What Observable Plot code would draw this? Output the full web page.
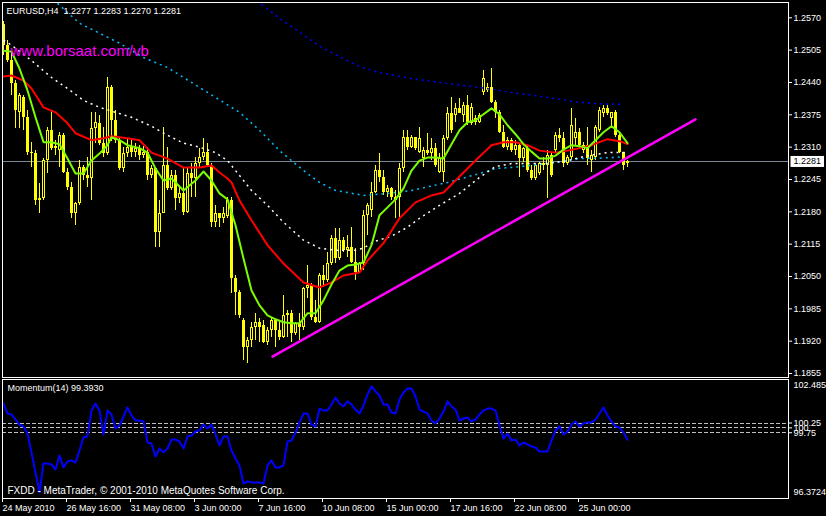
<!DOCTYPE html>
<html><head><meta charset="utf-8">
<script src="https://cdn.jsdelivr.net/npm/d3@7"></script>
<script src="https://cdn.jsdelivr.net/npm/@observablehq/plot@0.6"></script>
<style>
html,body{margin:0;padding:0;background:#000;}
#chart{width:826px;height:516px;background:#000;overflow:hidden;}
#chart svg{display:block;}
</style></head><body><div id="chart"></div>
<script>
// ---- EURUSD H4 candles (bar index 0..156) ----
const opens = [
1.2557,1.2515,1.2484,1.2438,1.2380,1.2410,1.2370,1.2299,1.2297,1.2203,
1.2207,1.2283,1.2344,1.2308,1.2303,1.2334,1.2259,1.2229,1.2177,1.2197,
1.2269,1.2253,1.2247,1.2348,1.2358,1.2318,1.2297,1.2430,1.2364,1.2324,
1.2267,1.2297,1.2310,1.2299,1.2308,1.2293,1.2299,1.2253,1.2267,1.2139,
1.2177,1.2273,1.2227,1.2253,1.2207,1.2217,1.2179,1.2257,1.2247,1.2277,
1.2289,1.2299,1.2273,1.2159,1.2177,1.2167,1.2171,1.2203,1.2046,1.2018,
1.1962,1.1908,1.1922,1.1948,1.1958,1.1952,1.1918,1.1942,1.1962,1.1942,
1.1928,1.1972,1.1976,1.1936,1.1956,1.1948,1.2026,1.2032,1.1968,1.1958,
1.2052,1.2042,1.2076,1.2127,1.2086,1.2123,1.2103,1.2109,1.2078,1.2058,
1.2076,1.2173,1.2183,1.2219,1.2263,1.2249,1.2219,1.2227,1.2203,1.2209,
1.2267,1.2330,1.2310,1.2330,1.2299,1.2287,1.2303,1.2297,1.2308,1.2259,
1.2259,1.2328,1.2378,1.2374,1.2388,1.2374,1.2394,1.2358,1.2368,1.2360,
1.2420,1.2424,1.2430,1.2400,1.2380,1.2340,1.2310,1.2324,1.2303,1.2314,
1.2287,1.2308,1.2263,1.2247,1.2257,1.2277,1.2273,1.2293,1.2303,1.2334,
1.2328,1.2277,1.2289,1.2328,1.2340,1.2303,1.2314,1.2283,1.2289,1.2344,
1.2378,1.2388,1.2368,1.2380,1.2334,1.2299,1.2277];
const highs = [
1.2563,1.2525,1.2500,1.2444,1.2418,1.2414,1.2384,1.2320,1.2303,1.2237,
1.2287,1.2350,1.2384,1.2324,1.2340,1.2338,1.2267,1.2239,1.2199,1.2283,
1.2273,1.2289,1.2380,1.2380,1.2374,1.2350,1.2450,1.2434,1.2384,1.2330,
1.2310,1.2328,1.2324,1.2318,1.2314,1.2312,1.2310,1.2273,1.2269,1.2203,
1.2350,1.2310,1.2263,1.2263,1.2229,1.2269,1.2267,1.2277,1.2289,1.2308,
1.2328,1.2318,1.2277,1.2193,1.2177,1.2189,1.2209,1.2209,1.2052,1.2022,
1.1966,1.1928,1.1958,1.1976,1.1966,1.1962,1.1948,1.1968,1.1962,1.1958,
1.2012,1.1982,1.1982,1.1958,1.1976,1.2028,1.2072,1.2036,1.2002,1.2056,
1.2072,1.2098,1.2133,1.2147,1.2147,1.2129,1.2133,1.2149,1.2107,1.2078,
1.2183,1.2197,1.2239,1.2273,1.2297,1.2263,1.2233,1.2229,1.2223,1.2277,
1.2344,1.2344,1.2334,1.2330,1.2350,1.2310,1.2338,1.2328,1.2318,1.2297,
1.2334,1.2390,1.2410,1.2398,1.2408,1.2400,1.2414,1.2398,1.2374,1.2378,
1.2464,1.2438,1.2468,1.2404,1.2384,1.2354,1.2330,1.2328,1.2324,1.2318,
1.2310,1.2314,1.2273,1.2277,1.2279,1.2289,1.2303,1.2297,1.2340,1.2348,
1.2340,1.2293,1.2388,1.2368,1.2348,1.2320,1.2350,1.2303,1.2354,1.2390,
1.2394,1.2394,1.2380,1.2384,1.2338,1.2299,1.2283];
const lows = [
1.2494,1.2480,1.2414,1.2348,1.2348,1.2344,1.2293,1.2269,1.2193,1.2177,
1.2203,1.2257,1.2303,1.2293,1.2269,1.2257,1.2223,1.2167,1.2153,1.2193,
1.2243,1.2229,1.2203,1.2318,1.2314,1.2289,1.2293,1.2322,1.2318,1.2263,
1.2259,1.2289,1.2289,1.2289,1.2283,1.2287,1.2243,1.2247,1.2109,1.2109,
1.2177,1.2223,1.2223,1.2183,1.2197,1.2173,1.2177,1.2209,1.2209,1.2269,
1.2283,1.2269,1.2149,1.2149,1.2149,1.2157,1.2167,1.2016,1.1972,1.1966,
1.1881,1.1875,1.1908,1.1922,1.1918,1.1916,1.1912,1.1928,1.1908,1.1922,
1.1926,1.1928,1.1918,1.1932,1.1922,1.1942,1.2006,1.1962,1.1956,1.1956,
1.2028,1.2038,1.2072,1.2076,1.2082,1.2098,1.2088,1.2076,1.2042,1.2056,
1.2062,1.2133,1.2169,1.2217,1.2239,1.2213,1.2209,1.2203,1.2167,1.2169,
1.2259,1.2303,1.2308,1.2303,1.2297,1.2269,1.2293,1.2283,1.2269,1.2257,
1.2239,1.2324,1.2338,1.2360,1.2378,1.2360,1.2354,1.2354,1.2354,1.2358,
1.2414,1.2420,1.2398,1.2368,1.2338,1.2308,1.2303,1.2299,1.2293,1.2249,
1.2279,1.2259,1.2243,1.2243,1.2253,1.2263,1.2207,1.2249,1.2299,1.2320,
1.2269,1.2273,1.2283,1.2314,1.2308,1.2297,1.2273,1.2259,1.2283,1.2340,
1.2370,1.2374,1.2348,1.2330,1.2297,1.2263,1.2270];
const closes = [
1.2515,1.2484,1.2438,1.2384,1.2414,1.2370,1.2299,1.2297,1.2203,1.2207,
1.2283,1.2344,1.2308,1.2312,1.2334,1.2259,1.2229,1.2177,1.2197,1.2269,
1.2253,1.2247,1.2348,1.2360,1.2318,1.2297,1.2430,1.2364,1.2324,1.2267,
1.2297,1.2310,1.2299,1.2308,1.2293,1.2299,1.2253,1.2267,1.2139,1.2177,
1.2273,1.2227,1.2253,1.2207,1.2217,1.2179,1.2257,1.2247,1.2277,1.2289,
1.2299,1.2273,1.2159,1.2177,1.2167,1.2177,1.2203,1.2046,1.2018,1.1972,
1.1908,1.1922,1.1948,1.1958,1.1948,1.1918,1.1942,1.1962,1.1942,1.1928,
1.1972,1.1976,1.1936,1.1956,1.1948,1.2026,1.2032,1.1968,1.1958,1.2052,
1.2042,1.2076,1.2127,1.2086,1.2123,1.2103,1.2109,1.2078,1.2058,1.2076,
1.2173,1.2193,1.2219,1.2263,1.2249,1.2219,1.2227,1.2209,1.2209,1.2267,
1.2330,1.2310,1.2330,1.2308,1.2328,1.2303,1.2297,1.2308,1.2273,1.2287,
1.2328,1.2378,1.2344,1.2388,1.2378,1.2394,1.2358,1.2390,1.2360,1.2374,
1.2448,1.2430,1.2400,1.2380,1.2340,1.2310,1.2324,1.2303,1.2314,1.2287,
1.2308,1.2263,1.2247,1.2273,1.2277,1.2273,1.2293,1.2253,1.2334,1.2328,
1.2277,1.2289,1.2354,1.2340,1.2314,1.2314,1.2287,1.2293,1.2350,1.2384,
1.2388,1.2378,1.2380,1.2334,1.2299,1.2273,1.2281];

// ---- moving averages (bar index, price) ----
const greenBars = [0,2,4,6,8,10,12,14,16,18,20,22,24,26,27,29,31,34,36,38,40,42,45,48,50,52,54,56,58,60,62,64,66,68,70,72,74,76,78,80,82,84,86,88,90,92,94,96,98,100,102,104,106,108,110,112,114,116,118,120,122,124,126,128,130,132,134,136,138,140,142,144,146,148,150,152,154,156];
const greenVals = [1.2504,1.2502,1.2468,1.2424,1.2370,1.2320,1.2320,1.2316,1.2287,1.2257,1.2257,1.2283,1.2297,1.2314,1.2330,1.2324,1.2314,1.2308,1.2299,1.2267,1.2243,1.2247,1.2223,1.2243,1.2261,1.2243,1.2217,1.2205,1.2153,1.2086,1.2022,1.1992,1.1972,1.1964,1.1958,1.1956,1.1956,1.1976,1.1976,1.2002,1.2034,1.2062,1.2072,1.2074,1.2078,1.2113,1.2173,1.2189,1.2205,1.2227,1.2263,1.2283,1.2289,1.2289,1.2287,1.2316,1.2344,1.2360,1.2364,1.2376,1.2388,1.2376,1.2354,1.2336,1.2316,1.2301,1.2287,1.2287,1.2293,1.2305,1.2314,1.2312,1.2308,1.2324,1.2340,1.2352,1.2340,1.2318];
const redBars = [0,2,5,7,10,13,16,18,22,25,27,31,34,37,41,45,49,52,54,56,57,59,62,66,70,75,79,82,85,89,91,95,99,103,107,110,113,118,122,125,128,131,134,138,141,144,147,151,154,156];
const redVals = [1.2452,1.2454,1.2444,1.2428,1.2390,1.2380,1.2358,1.2338,1.2324,1.2328,1.2332,1.2328,1.2324,1.2299,1.2287,1.2269,1.2269,1.2273,1.2259,1.2247,1.2239,1.2203,1.2163,1.2113,1.2076,1.2038,1.2028,1.2038,1.2052,1.2058,1.2082,1.2117,1.2167,1.2199,1.2213,1.2219,1.2243,1.2283,1.2314,1.2320,1.2320,1.2314,1.2303,1.2299,1.2303,1.2308,1.2314,1.2326,1.2322,1.2316];
const whiteBars = [0,2,7,12,16,20,24,28,32,37,41,45,49,53,56,59,62,66,70,75,79,83,88,90,93,97,101,104,109,114,119,123,127,131,136,141,146,151,156];
const whiteVals = [1.2525,1.2515,1.2484,1.2450,1.2428,1.2404,1.2390,1.2380,1.2370,1.2352,1.2334,1.2318,1.2310,1.2299,1.2283,1.2253,1.2223,1.2193,1.2159,1.2123,1.2107,1.2103,1.2103,1.2107,1.2121,1.2131,1.2149,1.2167,1.2193,1.2217,1.2249,1.2271,1.2277,1.2277,1.2277,1.2283,1.2293,1.2299,1.2299];
const cyanBars = [13.5,19,24,29,35,41,49,57,59,64,69,75,79,83,90,96,102,111,119,123,127,136,144,152,155];
const cyanVals = [1.2599,1.2559,1.2539,1.2519,1.2490,1.2470,1.2430,1.2390,1.2380,1.2344,1.2303,1.2263,1.2239,1.2223,1.2213,1.2217,1.2223,1.2239,1.2257,1.2267,1.2269,1.2277,1.2287,1.2289,1.2291];
const blueBars = [64.5,69,74,79,84,89,94,102,111,119,127,136,144,150,155];
const blueVals = [1.2597,1.2569,1.2541,1.2513,1.2492,1.2472,1.2460,1.2448,1.2438,1.2430,1.2420,1.2410,1.2400,1.2397,1.2396];
const trendBars = [67.25, 173];
const trendVals = [1.1889, 1.2366];

// ---- Momentum(14) per bar ----
const momentum = [
101.25,100.74,100.69,100.43,100.17,100.07,99.71,98.74,97.71,96.68,
98.17,98.17,98.12,97.86,98.58,97.97,98.27,98.33,98.22,98.84,
99.51,99.56,100.89,101.25,100.89,99.66,100.89,100.69,99.97,100.12,
100.58,101.05,100.64,100.38,100.38,100.33,99.25,99.20,98.53,98.94,
98.74,98.94,99.40,99.40,99.30,98.94,99.56,99.61,99.81,99.87,
100.17,99.97,100.17,99.66,99.10,99.56,99.56,98.84,98.43,98.07,
97.14,97.25,97.20,97.20,97.20,97.14,98.07,98.33,97.97,97.97,
98.07,99.30,99.35,99.76,100.28,100.74,100.74,100.17,100.07,100.99,
100.89,100.89,101.20,101.56,101.25,101.10,101.36,101.20,100.94,100.74,
101.15,101.71,102.13,101.87,101.66,101.20,101.20,100.79,100.74,101.46,
101.82,102.02,102.02,101.61,100.94,100.84,100.74,100.38,100.23,100.48,
100.84,101.36,101.10,100.94,100.38,100.48,100.53,100.33,100.43,100.69,
100.89,100.99,100.99,100.89,100.12,99.45,99.71,99.35,99.40,99.10,
99.25,99.15,99.04,98.99,98.79,98.79,98.79,99.35,99.87,100.07,
99.66,99.81,100.17,100.33,100.07,100.23,100.28,100.28,100.43,100.74,
101.05,100.64,100.33,100.07,100.02,99.76,99.39];
const momLevels = [100.25, 100, 99.75];
const momMax = 102.485, momMin = 96.3724;

// ---- axes ----
const priceTicks = [1.2570,1.2505,1.2440,1.2375,1.2310,1.2245,1.2180,1.2115,1.2050,1.1985,1.1920,1.1855];
const lastPrice = 1.2281;
const timeTickBars = [0,16,32,48,64,80,96,112,128,144];
const timeLabels = ["24 May 2010","26 May 16:00","31 May 08:00","3 Jun 00:00","7 Jun 16:00","10 Jun 08:00","15 Jun 00:00","17 Jun 16:00","22 Jun 08:00","25 Jun 00:00"];
const titleText = "EURUSD,H4\u00a0 1.2277 1.2283 1.2270 1.2281";
const siteText = "www.borsaat.com/vb";
const momTitle = "Momentum(14) 99.3930";
const copyright = "FXDD - MetaTrader, \u00a9 2001-2010 MetaQuotes Software Corp.";

const candles = opens.map((o, i) => ({i, open: o, high: highs[i], low: lows[i], close: closes[i]}));
const pairs = (b, v) => b.map((x, k) => ({i: x, v: v[k]}));
const momData = momentum.map((v, i) => ({i, v}));

const FONT = "'Liberation Sans', Arial, sans-serif";
const YEL = "#ffff00";
const baseStyle = {background: "#000", color: "#fff", fontFamily: FONT, fontSize: "9px", overflow: "visible"};
const xDom = [-0.25, 196.25];
const hw = 0.375;
const crisp = {shapeRendering: "crispEdges"};

const main = Plot.plot({
  width: 826, height: 378,
  marginLeft: 2, marginRight: 38, marginTop: 2, marginBottom: 1,
  x: {domain: xDom, axis: null},
  y: {domain: [1.184698, 1.260075], axis: null},
  style: baseStyle,
  marks: [
    Plot.ruleY([lastPrice], {stroke: "#778899", ...crisp}),
    Plot.ruleX(candles, {x: "i", y1: "low", y2: "high", stroke: YEL, ...crisp}),
    Plot.rect(candles, {x1: d => d.i - hw, x2: d => d.i + hw, y1: "open", y2: "close", fill: YEL, ...crisp}),
    Plot.rect(candles.filter(d => d.close > d.open), {x1: d => d.i - hw, x2: d => d.i + hw, y1: "open", y2: "close", fill: "#000", inset: 1, ...crisp}),
    Plot.line(pairs(cyanBars, cyanVals), {x: "i", y: "v", stroke: "#00bfff", strokeDasharray: "2,4", strokeLinecap: "butt"}),
    Plot.line(pairs(blueBars, blueVals), {x: "i", y: "v", stroke: "#0000ff", strokeDasharray: "2,4", strokeLinecap: "butt"}),
    Plot.line(pairs(whiteBars, whiteVals), {x: "i", y: "v", stroke: "#ffffff", strokeDasharray: "2,4", strokeLinecap: "butt"}),
    Plot.line(pairs(redBars, redVals), {x: "i", y: "v", stroke: "#ff0000", strokeWidth: 2}),
    Plot.line(pairs(greenBars, greenVals), {x: "i", y: "v", stroke: "#7cfc00", strokeWidth: 2}),
    Plot.line(pairs(trendBars, trendVals), {x: "i", y: "v", stroke: "#ff00ff", strokeWidth: 2.5}),
    Plot.frame({stroke: "#fff", ...crisp}),
    Plot.axisY(priceTicks, {anchor: "right", tickSize: 3, tickPadding: 2, tickFormat: d => d.toFixed(4), label: null, fill: "#fff", stroke: "#fff"}),
    Plot.text([lastPrice], {y: d => d, frameAnchor: "right", dx: 5, textAnchor: "start", fill: "#000", text: d => d.toFixed(4), ariaDescription: "last-price"}),
    Plot.text([titleText], {frameAnchor: "top-left", dx: 4, dy: 5, lineAnchor: "top", textAnchor: "start", fill: "#fff"}),
    Plot.text([siteText], {frameAnchor: "top-left", dx: 8, dy: 53, lineAnchor: "bottom", textAnchor: "start", fill: "#ff00ff", fontSize: 15})
  ]
});

const mom = Plot.plot({
  width: 826, height: 138,
  marginLeft: 2, marginRight: 38, marginTop: 1, marginBottom: 18,
  x: {domain: xDom, axis: null},
  y: {domain: [momMin, momMax], axis: null},
  style: baseStyle,
  marks: [
    Plot.ruleY(momLevels, {stroke: "#c0c0c0", strokeDasharray: "4,2", ...crisp}),
    Plot.line(momData, {x: "i", y: "v", stroke: "#0000ff", strokeWidth: 2}),
    Plot.frame({stroke: "#fff", ...crisp}),
    Plot.axisX(timeTickBars, {anchor: "bottom", tickSize: 4, tickPadding: 2, tickFormat: d => timeLabels[timeTickBars.indexOf(d)], textAnchor: "start", dx: -1, label: null, fill: "#fff", stroke: "#fff"}),
    Plot.axisY(momLevels, {anchor: "right", tickSize: 3, tickPadding: 2, tickFormat: d => d === 100 ? "100" : String(d), label: null, fill: "#fff", stroke: "#fff"}),
    Plot.text([momMax], {y: d => d, frameAnchor: "right", dx: 5, dy: 6, textAnchor: "start", fill: "#fff", text: d => String(d)}),
    Plot.text([momMin], {y: d => d, frameAnchor: "right", dx: 5, dy: -6, textAnchor: "start", fill: "#fff", text: d => String(d)}),
    Plot.text([momTitle], {frameAnchor: "top-left", dx: 5, dy: 5, lineAnchor: "top", textAnchor: "start", fill: "#fff"}),
    Plot.text([copyright], {frameAnchor: "bottom-left", dx: 5, dy: -5, lineAnchor: "bottom", textAnchor: "start", fill: "#fff", fontSize: 10})
  ]
});

const host = document.getElementById("chart");
host.appendChild(main);
host.appendChild(mom);

// white box behind the current-price label
let t = null;
main.querySelectorAll("text").forEach(el => { if (el.textContent === lastPrice.toFixed(4) && el.getAttribute("fill") === "#000") t = el; });
if (!t) {
  const g = main.querySelector('[aria-description="last-price"]');
  if (g) t = g.querySelector("text");
}
if (t) {
  const bb = t.getBBox();
  const r = document.createElementNS("http://www.w3.org/2000/svg", "rect");
  r.setAttribute("x", bb.x - 3);
  r.setAttribute("y", bb.y - 0.5);
  r.setAttribute("width", bb.width + 6);
  r.setAttribute("height", bb.height + 1);
  r.setAttribute("fill", "#fff");
  if (t.getAttribute("transform")) r.setAttribute("transform", t.getAttribute("transform"));
  t.parentNode.insertBefore(r, t);
}
</script>
</body></html>
